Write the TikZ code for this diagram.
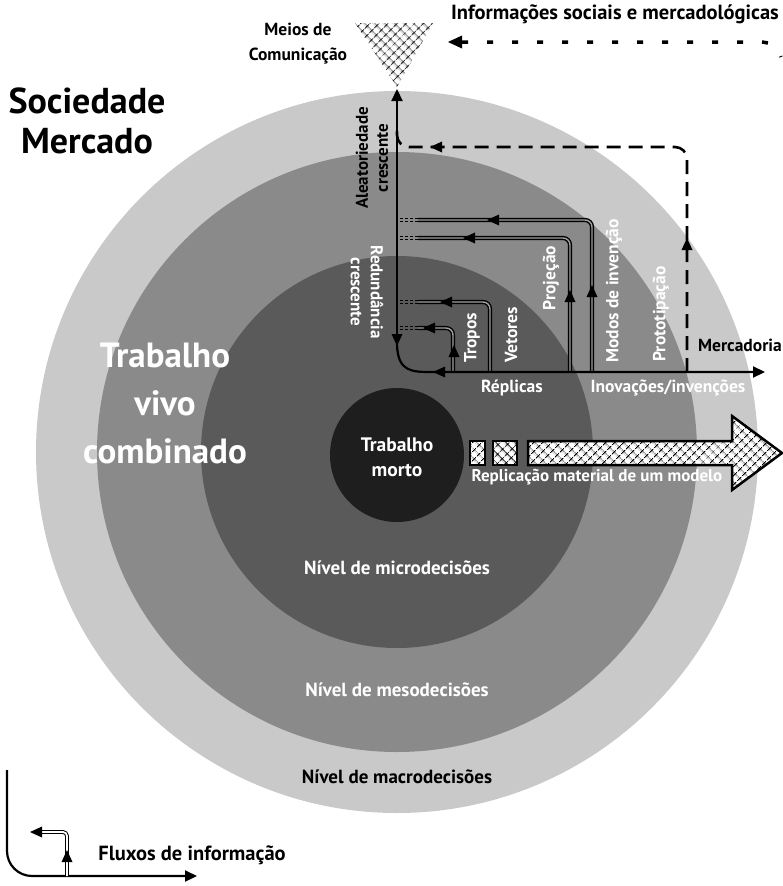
\documentclass[tikz,border=0pt]{standalone}
\usepackage{fontspec}
\setmainfont{PT Sans}
\usetikzlibrary{arrows.meta,patterns,patterns.meta,positioning}

\definecolor{ringA}{HTML}{C9C9C9}
\definecolor{ringB}{HTML}{8A8A8A}
\definecolor{ringC}{HTML}{5A5A5A}
\definecolor{core}{HTML}{1E1E1E}
\definecolor{gapgray}{HTML}{A2A2A2}

\newcommand{\fs}[2]{\bfseries\fontsize{#1}{#2}\selectfont}

\tikzset{
  txt/.style={font=\fs{17.5}{21}, inner sep=0pt, align=center},
  wtxt/.style={txt, text=white},
  bigtxt/.style={font=\fs{36}{40}, inner sep=0pt, align=center},
  axisline/.style={line width=2.2pt},
  tipR/.style={-{Triangle[length=12pt,width=11pt]}},
  flow/.style={line width=1.4pt, double=gapgray, double distance=1.4pt, rounded corners=7pt},
  dashloop/.style={line width=2.6pt, dash pattern=on 14pt off 8pt, rounded corners=12pt},
  dotline/.style={line width=3.5pt, dash pattern=on 6pt off 19pt},
  lace/.style={pattern={Hatch[angle=45, distance=6.5pt, line width=1pt]}, pattern color=black},
  head/.pic={\fill (0,0) -- (-12,-5.5) -- (-12,5.5) -- cycle;},
  bighead/.pic={\fill (0,0) -- (-14,-6.5) -- (-14,6.5) -- cycle;}
}

\begin{document}
\begin{tikzpicture}[x=1pt,y=-1pt]
  \useasboundingbox (0,0) rectangle (783,886);

  % decision levels
  \coordinate (ctr) at (397,452);
  \fill[ringA] (ctr) circle[radius=361pt];
  \fill[ringB] (ctr) circle[radius=300pt];
  \fill[ringC] (ctr) circle[radius=196pt];
  \fill[core] (397,455) circle[radius=67pt];

  \node[bigtxt] (soc) at (87,121) {Sociedade\\Mercado};
  \node[bigtxt, text=white, font=\fs{35}{48}] (vivo) at (165,403) {Trabalho\\vivo\\combinado};
  \node[wtxt, font=\fs{19.5}{25}] (morto) at (397,457) {Trabalho\\morto};
  \node[wtxt, font=\fs{19}{22}] (micro) at (397,568) {Nível de microdecisões};
  \node[wtxt, font=\fs{19}{22}] (meso) at (397,690) {Nível de mesodecisões};
  \node[txt, font=\fs{19}{22}] (macro) at (397,777) {Nível de macrodecisões};

  % media funnel
  \fill[white] (355,23) -- (433,23) -- (397,87) -- cycle;
  \fill[lace] (355,23) -- (433,23) -- (397,87) -- cycle;
  \node[txt, font=\fs{17.5}{25}] (media) at (298,44) {Meios de\\Comunicação};
  \node[txt, font=\fs{20.5}{24}] (info) at (615,14) {Informações sociais e mercadológicas};
  \draw[dotline] (462,42) -- (760,42) .. controls (772,42) and (778,48) .. (781,57);
  \pic[rotate=180] at (448,42) {bighead};

  % flows
  \draw[flow] (592,372) |- (418,220);
  \draw[flow] (570,372) |- (418,238);
  \draw[flow] (490,372) |- (418,302);
  \draw[flow] (453,372) |- (418,328);
  \foreach \yy in {220,238,302,328}
    \draw[line width=1.4pt, dash pattern=on 3pt off 2pt]
      (418,\yy-1.4) -- (397,\yy-1.4) (418,\yy+1.4) -- (397,\yy+1.4);
  \draw[dashloop] (687,372) |- (397,147) -- (397,125);

  \coordinate (ax0) at (397,345);
  \draw[axisline, tipR] (ax0) -- (397,89);
  \draw[axisline, tipR] (ax0) .. controls (398,372) and (412,372) .. (432,372) -- (765,372);

  \pic[rotate=-90] at (397,346) {head};
  \pic[rotate=180] at (433,372) {head};
  \pic[rotate=90] at (454,345) {head};
  \pic[rotate=180] at (423,328) {head};
  \pic[rotate=180] at (440,302) {head};
  \pic[rotate=90] at (570,290) {head};
  \pic[rotate=180] at (463,238) {head};
  \pic[rotate=90] at (592,285) {head};
  \pic[rotate=180] at (487,220) {head};
  \pic[rotate=90] at (687,238) {head};
  \pic[rotate=180] at (430,147) {head};

  % flow labels
  \node[txt, rotate=90, font=\fs{17}{20}] (aleat) at (372,158) {Aleatoriedade\\crescente};
  \node[wtxt, rotate=-90, font=\fs{17}{20}] (redund) at (367,292) {Redundância\\crescente};
  \node[wtxt, rotate=90] (tropos) at (472,338) {Tropos};
  \node[wtxt, rotate=90] (vet) at (511,335) {Vetores};
  \node[wtxt, rotate=90] (proj) at (551,278) {Projeção};
  \node[wtxt, rotate=90] (modos) at (614,291) {Modos de invenção};
  \node[wtxt, rotate=90] (proto) at (661,314) {Prototipação};
  \node[wtxt] (repl) at (512,388) {Réplicas};
  \node[wtxt] (inov) at (668,388) {Inovações/invenções};
  \node[txt] (merc) at (740,345) {Mercadoria};

  % material replication
  \draw[line width=2.5pt, fill=white, postaction={lace}] (470,441) rectangle (485,465);
  \draw[line width=2.5pt, fill=white, postaction={lace}] (493,441) rectangle (517,465);
  \draw[line width=2.5pt, fill=white, postaction={lace}]
    (528,441) -- (732,441) -- (732,416) -- (782,453) -- (732,490) -- (732,465) -- (528,465) -- cycle;
  \node[wtxt, font=\fs{17}{20}] (modelo) at (597,477) {Replicação material de um modelo};

  % legend
  \draw[axisline, tipR, rounded corners=25pt] (7,770) |- (197,876);
  \draw[line width=1pt, double=white, double distance=1.8pt, rounded corners=4pt] (67,876) |- (40,832);
  \pic[rotate=90] at (67,850) {head};
  \pic[rotate=180] at (30,832) {head};
  \node[txt, font=\fs{20.5}{24}] (fluxo) at (192,855) {Fluxos de informação};
\end{tikzpicture}
\end{document}
